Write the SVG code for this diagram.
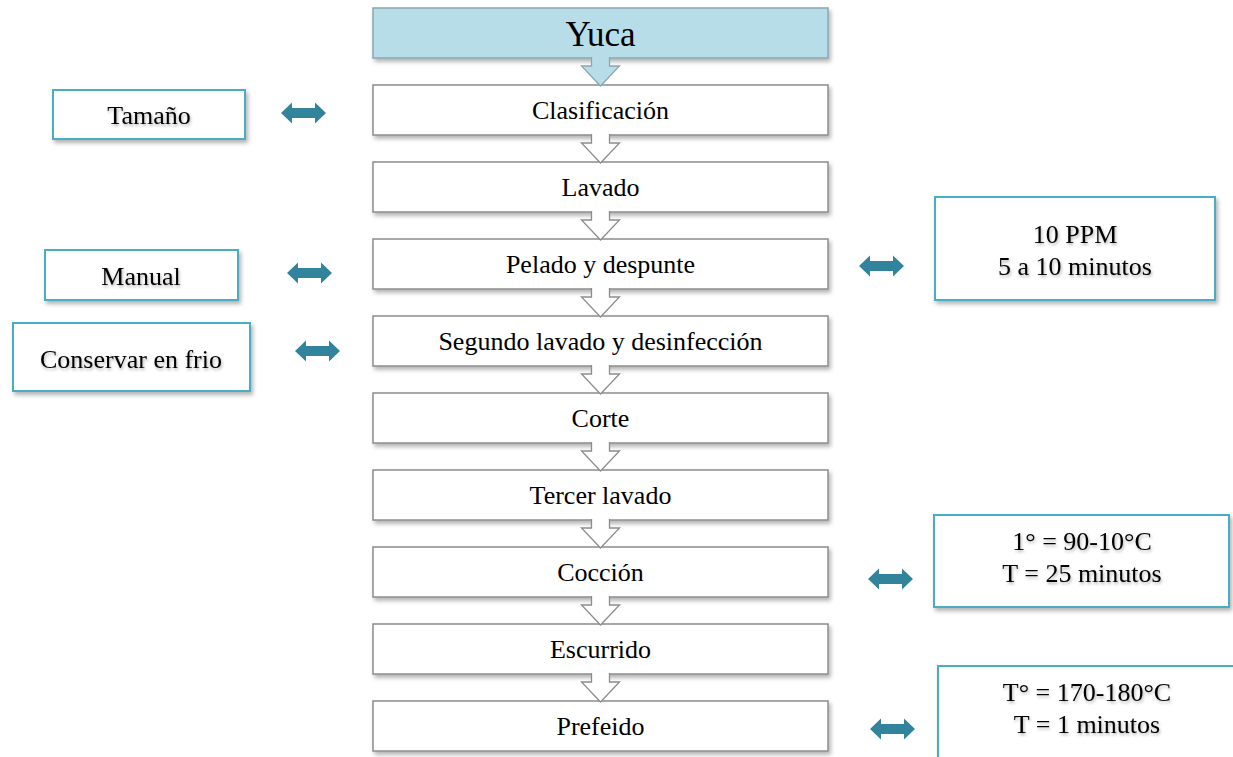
<svg xmlns="http://www.w3.org/2000/svg" xmlns:xlink="http://www.w3.org/1999/xlink" width="1233" height="757" viewBox="0 0 1233 757">
  <style>
    .step { fill: #ffffff; stroke: #8c8c8c; stroke-width: 1.5; filter: url(#boxShadow); }
    .head { fill: #b7dde8; stroke: #8aa7ae; stroke-width: 1.5; filter: url(#boxShadow); }
    .note { fill: #ffffff; stroke: #4bacc6; stroke-width: 2; filter: url(#boxShadow); }
    .flow { fill: #ffffff; stroke: #8c8c8c; stroke-width: 1.3; }
    .flow0 { fill: #b7dde8; stroke: #8aa7ae; stroke-width: 1.3; }
    .link { fill: #31849b; }
    text { font-family: "Liberation Serif", "Times New Roman", serif; font-size: 26px; fill: #000; text-anchor: middle; }
    .soft { filter: url(#textShadow); }
  </style>
  <defs>
    <filter id="boxShadow" x="-10%" y="-20%" width="120%" height="160%">
      <feDropShadow dx="2" dy="3" stdDeviation="2" flood-color="#000" flood-opacity="0.3"/>
    </filter>
    <filter id="textShadow" x="-10%" y="-30%" width="120%" height="170%">
      <feDropShadow dx="1" dy="2" stdDeviation="1.5" flood-color="#000" flood-opacity="0.3"/>
    </filter>
    <!-- hollow block arrow pointing down, origin at the bottom centre of a box -->
    <path id="down" d="M -9,-1 L -9,8 L -19,8 L 0,28 L 19,8 L 9,8 L 9,-1"/>
    <!-- two-headed block arrow, origin at its left tip -->
    <path id="both" d="M 0,0 L 11,-10.5 L 11,-5 L 34,-5 L 34,-10.5 L 45,0 L 34,10.5 L 34,5 L 11,5 L 11,10.5 Z"/>
  </defs>

  <!-- process steps -->
  <g id="yuca"><rect class="head" x="373" y="8" width="455" height="50"/><text x="600.5" y="46" style="font-size:36px" textLength="70" lengthAdjust="spacingAndGlyphs">Yuca</text></g>
  <g id="clasificacion"><rect class="step" x="373" y="85" width="455" height="50"/><text x="600.5" y="119">Clasificación</text></g>
  <g id="lavado"><rect class="step" x="373" y="162" width="455" height="50"/><text x="600.5" y="196">Lavado</text></g>
  <g id="pelado"><rect class="step" x="373" y="239" width="455" height="50"/><text x="600.5" y="273">Pelado y despunte</text></g>
  <g id="segundo-lavado"><rect class="step" x="373" y="316" width="455" height="50"/><text x="600.5" y="350">Segundo lavado y desinfección</text></g>
  <g id="corte"><rect class="step" x="373" y="393" width="455" height="50"/><text x="600.5" y="427">Corte</text></g>
  <g id="tercer-lavado"><rect class="step" x="373" y="470" width="455" height="50"/><text x="600.5" y="504">Tercer lavado</text></g>
  <g id="coccion"><rect class="step" x="373" y="547" width="455" height="50"/><text x="600.5" y="581">Cocción</text></g>
  <g id="escurrido"><rect class="step" x="373" y="624" width="455" height="50"/><text x="600.5" y="658">Escurrido</text></g>
  <g id="prefeido"><rect class="step" x="373" y="701" width="455" height="50"/><text x="600.5" y="735">Prefeido</text></g>

  <!-- side notes -->
  <g id="tamano"><rect class="note" x="53" y="90" width="192" height="49"/><text class="soft" x="149" y="124">Tamaño</text></g>
  <g id="manual"><rect class="note" x="45" y="250" width="193" height="50"/><text class="soft" x="141" y="285">Manual</text></g>
  <g id="conservar"><rect class="note" x="13" y="323" width="237" height="68"/><text class="soft" x="131" y="368">Conservar en frio</text></g>
  <g id="ppm"><rect class="note" x="935" y="197" width="280" height="103"/><text class="soft" x="1075" y="243">10 PPM</text><text class="soft" x="1075" y="275">5 a 10 minutos</text></g>
  <g id="coccion-temp"><rect class="note" x="934" y="515" width="295" height="92"/><text class="soft" x="1082" y="550">1° = 90-10°C</text><text class="soft" x="1082" y="582">T = 25 minutos</text></g>
  <g id="prefeido-temp"><rect class="note" x="938" y="666" width="300" height="100"/><text class="soft" x="1087" y="701">T° = 170-180°C</text><text class="soft" x="1087" y="733">T = 1 minutos</text></g>

  <!-- connectors -->
  <g id="connectors">
    <use xlink:href="#down" class="flow0" x="600.5" y="58"/>
    <use xlink:href="#down" class="flow" x="600.5" y="135"/>
    <use xlink:href="#down" class="flow" x="600.5" y="212"/>
    <use xlink:href="#down" class="flow" x="600.5" y="289"/>
    <use xlink:href="#down" class="flow" x="600.5" y="366"/>
    <use xlink:href="#down" class="flow" x="600.5" y="443"/>
    <use xlink:href="#down" class="flow" x="600.5" y="520"/>
    <use xlink:href="#down" class="flow" x="600.5" y="597"/>
    <use xlink:href="#down" class="flow" x="600.5" y="674"/>

    <use xlink:href="#both" class="link" x="281" y="113"/>
    <use xlink:href="#both" class="link" x="287" y="273"/>
    <use xlink:href="#both" class="link" x="295" y="351"/>
    <use xlink:href="#both" class="link" x="859" y="266"/>
    <use xlink:href="#both" class="link" x="868" y="579"/>
    <use xlink:href="#both" class="link" x="870" y="729"/>
  </g>
</svg>
